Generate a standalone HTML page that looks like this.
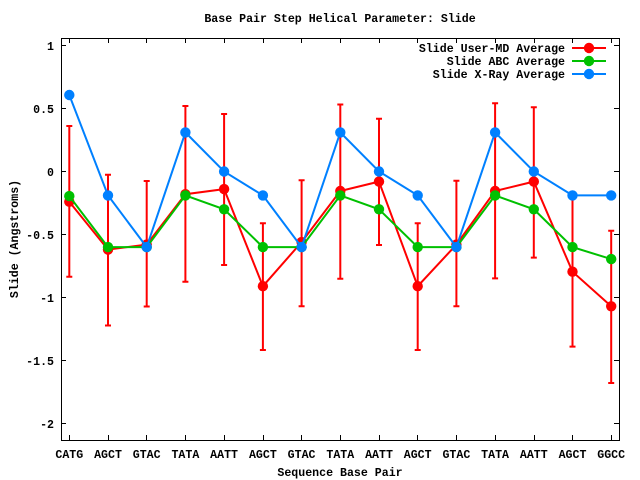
<!DOCTYPE html>
<html><head><meta charset="utf-8"><style>
html,body{margin:0;padding:0;background:#fff;}
svg{display:block;}
text{font-family:"Liberation Mono",monospace;font-weight:bold;font-size:11.6px;fill:#000;}
</style></head><body>
<svg width="640" height="480" viewBox="0 0 640 480" xmlns="http://www.w3.org/2000/svg">
<rect width="640" height="480" fill="#fff"/>
<text x="340" y="22" text-anchor="middle">Base Pair Step Helical Parameter: Slide</text>
<!-- frame -->
<rect x="61.5" y="38.5" width="558" height="402" fill="none" stroke="#000" stroke-width="1"/>
<!-- y ticks -->
<g stroke="#000" stroke-width="1">
<line x1="61" y1="45.5" x2="66" y2="45.5"/><line x1="614" y1="45.5" x2="619" y2="45.5"/>
<line x1="61" y1="108.5" x2="66" y2="108.5"/><line x1="614" y1="108.5" x2="619" y2="108.5"/>
<line x1="61" y1="171.5" x2="66" y2="171.5"/><line x1="614" y1="171.5" x2="619" y2="171.5"/>
<line x1="61" y1="234.5" x2="66" y2="234.5"/><line x1="614" y1="234.5" x2="619" y2="234.5"/>
<line x1="61" y1="297.5" x2="66" y2="297.5"/><line x1="614" y1="297.5" x2="619" y2="297.5"/>
<line x1="61" y1="360.5" x2="66" y2="360.5"/><line x1="614" y1="360.5" x2="619" y2="360.5"/>
<line x1="61" y1="423.5" x2="66" y2="423.5"/><line x1="614" y1="423.5" x2="619" y2="423.5"/>
</g>
<g stroke="#000" stroke-width="1">
<line x1="69.5" y1="440" x2="69.5" y2="435"/><line x1="69.5" y1="38" x2="69.5" y2="43"/>
<line x1="108.5" y1="440" x2="108.5" y2="435"/><line x1="108.5" y1="38" x2="108.5" y2="43"/>
<line x1="146.5" y1="440" x2="146.5" y2="435"/><line x1="146.5" y1="38" x2="146.5" y2="43"/>
<line x1="185.5" y1="440" x2="185.5" y2="435"/><line x1="185.5" y1="38" x2="185.5" y2="43"/>
<line x1="224.5" y1="440" x2="224.5" y2="435"/><line x1="224.5" y1="38" x2="224.5" y2="43"/>
<line x1="263.5" y1="440" x2="263.5" y2="435"/><line x1="263.5" y1="38" x2="263.5" y2="43"/>
<line x1="301.5" y1="440" x2="301.5" y2="435"/><line x1="301.5" y1="38" x2="301.5" y2="43"/>
<line x1="340.5" y1="440" x2="340.5" y2="435"/><line x1="340.5" y1="38" x2="340.5" y2="43"/>
<line x1="379.5" y1="440" x2="379.5" y2="435"/><line x1="379.5" y1="38" x2="379.5" y2="43"/>
<line x1="417.5" y1="440" x2="417.5" y2="435"/><line x1="417.5" y1="38" x2="417.5" y2="43"/>
<line x1="456.5" y1="440" x2="456.5" y2="435"/><line x1="456.5" y1="38" x2="456.5" y2="43"/>
<line x1="495.5" y1="440" x2="495.5" y2="435"/><line x1="495.5" y1="38" x2="495.5" y2="43"/>
<line x1="534.5" y1="440" x2="534.5" y2="435"/><line x1="534.5" y1="38" x2="534.5" y2="43"/>
<line x1="572.5" y1="440" x2="572.5" y2="435"/><line x1="572.5" y1="38" x2="572.5" y2="43"/>
<line x1="611.5" y1="440" x2="611.5" y2="435"/><line x1="611.5" y1="38" x2="611.5" y2="43"/>
</g>
<!-- y tick labels -->
<g text-anchor="end">
<text x="54" y="50">1</text>
<text x="54" y="113">0.5</text>
<text x="54" y="176">0</text>
<text x="54" y="239">-0.5</text>
<text x="54" y="302">-1</text>
<text x="54" y="365">-1.5</text>
<text x="54" y="428">-2</text>
</g>
<!-- x tick labels -->
<g text-anchor="middle">
<text x="69.3" y="458">CATG</text>
<text x="108" y="458">AGCT</text>
<text x="146.7" y="458">GTAC</text>
<text x="185.4" y="458">TATA</text>
<text x="224.1" y="458">AATT</text>
<text x="262.9" y="458">AGCT</text>
<text x="301.6" y="458">GTAC</text>
<text x="340.3" y="458">TATA</text>
<text x="379" y="458">AATT</text>
<text x="417.7" y="458">AGCT</text>
<text x="456.4" y="458">GTAC</text>
<text x="495.1" y="458">TATA</text>
<text x="533.8" y="458">AATT</text>
<text x="572.5" y="458">AGCT</text>
<text x="611.2" y="458">GGCC</text>
</g>
<text x="340" y="476" text-anchor="middle">Sequence Base Pair</text>
<text x="18" y="239" text-anchor="middle" transform="rotate(-90 18 239)">Slide (Angstroms)</text>

<!-- Red series -->
<g stroke="#ff0000" stroke-width="2" fill="none">
<polyline points="69.3,201.7 108,249.6 146.7,244.6 185.4,194.2 224.1,189.1 262.9,286.2 301.6,242.1 340.3,191 379,181.6 417.7,286.2 456.4,244.6 495.1,191 533.8,181.6 572.5,271.7 611.2,306.3"/>
<path d="M69.3,126V276.7 M66.3,126H72.3 M66.3,276.7H72.3
M108,174.7V325.5 M105,174.7H111 M105,325.5H111
M146.7,181V306.5 M143.7,181H149.7 M143.7,306.5H149.7
M185.4,106V281.8 M182.4,106H188.4 M182.4,281.8H188.4
M224.1,114V265 M221.1,114H227.1 M221.1,265H227.1
M262.9,223.3V350 M259.9,223.3H265.9 M259.9,350H265.9
M301.6,180.3V306.3 M298.6,180.3H304.6 M298.6,306.3H304.6
M340.3,104.5V278.8 M337.3,104.5H343.3 M337.3,278.8H343.3
M379,118.7V245 M376,118.7H382 M376,245H382
M417.7,223.3V350 M414.7,223.3H420.7 M414.7,350H420.7
M456.4,180.8V306.3 M453.4,180.8H459.4 M453.4,306.3H459.4
M495.1,103.2V278.4 M492.1,103.2H498.1 M492.1,278.4H498.1
M533.8,107.2V257.6 M530.8,107.2H536.8 M530.8,257.6H536.8
M572.5,196.7V346.6 M569.5,196.7H575.5 M569.5,346.6H575.5
M611.2,230.7V383 M608.2,230.7H614.2 M608.2,383H614.2"/>
</g>
<g fill="#ff0000">
<circle cx="69.3" cy="201.7" r="5.2"/><circle cx="108" cy="249.6" r="5.2"/><circle cx="146.7" cy="244.6" r="5.2"/><circle cx="185.4" cy="194.2" r="5.2"/><circle cx="224.1" cy="189.1" r="5.2"/><circle cx="262.9" cy="286.2" r="5.2"/><circle cx="301.6" cy="242.1" r="5.2"/><circle cx="340.3" cy="191" r="5.2"/><circle cx="379" cy="181.6" r="5.2"/><circle cx="417.7" cy="286.2" r="5.2"/><circle cx="456.4" cy="244.6" r="5.2"/><circle cx="495.1" cy="191" r="5.2"/><circle cx="533.8" cy="181.6" r="5.2"/><circle cx="572.5" cy="271.7" r="5.2"/><circle cx="611.2" cy="306.3" r="5.2"/>
</g>

<!-- Green series -->
<polyline fill="none" stroke="#00c000" stroke-width="2" points="69.3,196.1 108,247.1 146.7,247.1 185.4,195.4 224.1,209.3 262.9,247.1 301.6,247.1 340.3,195.4 379,209.3 417.7,247.1 456.4,247.1 495.1,195.4 533.8,209.3 572.5,247.1 611.2,259.1"/>
<g fill="#00c000">
<circle cx="69.3" cy="196.1" r="5.2"/><circle cx="108" cy="247.1" r="5.2"/><circle cx="146.7" cy="247.1" r="5.2"/><circle cx="185.4" cy="195.4" r="5.2"/><circle cx="224.1" cy="209.3" r="5.2"/><circle cx="262.9" cy="247.1" r="5.2"/><circle cx="301.6" cy="247.1" r="5.2"/><circle cx="340.3" cy="195.4" r="5.2"/><circle cx="379" cy="209.3" r="5.2"/><circle cx="417.7" cy="247.1" r="5.2"/><circle cx="456.4" cy="247.1" r="5.2"/><circle cx="495.1" cy="195.4" r="5.2"/><circle cx="533.8" cy="209.3" r="5.2"/><circle cx="572.5" cy="247.1" r="5.2"/><circle cx="611.2" cy="259.1" r="5.2"/>
</g>

<!-- Blue series -->
<polyline fill="none" stroke="#0080ff" stroke-width="2" points="69.3,95 108,195.4 146.7,247.1 185.4,132.4 224.1,171.5 262.9,195.4 301.6,247.1 340.3,132.4 379,171.5 417.7,195.4 456.4,247.1 495.1,132.4 533.8,171.5 572.5,195.4 611.2,195.4"/>
<g fill="#0080ff">
<circle cx="69.3" cy="95" r="5.2"/><circle cx="108" cy="195.4" r="5.2"/><circle cx="146.7" cy="247.1" r="5.2"/><circle cx="185.4" cy="132.4" r="5.2"/><circle cx="224.1" cy="171.5" r="5.2"/><circle cx="262.9" cy="195.4" r="5.2"/><circle cx="301.6" cy="247.1" r="5.2"/><circle cx="340.3" cy="132.4" r="5.2"/><circle cx="379" cy="171.5" r="5.2"/><circle cx="417.7" cy="195.4" r="5.2"/><circle cx="456.4" cy="247.1" r="5.2"/><circle cx="495.1" cy="132.4" r="5.2"/><circle cx="533.8" cy="171.5" r="5.2"/><circle cx="572.5" cy="195.4" r="5.2"/><circle cx="611.2" cy="195.4" r="5.2"/>
</g>

<!-- Legend -->
<g text-anchor="end">
<text x="565" y="52">Slide User-MD Average</text>
<text x="565" y="65">Slide ABC Average</text>
<text x="565" y="78">Slide X-Ray Average</text>
</g>
<line x1="572" y1="48" x2="606" y2="48" stroke="#ff0000" stroke-width="2"/>
<circle cx="589" cy="48" r="5.2" fill="#ff0000"/>
<line x1="572" y1="61" x2="606" y2="61" stroke="#00c000" stroke-width="2"/>
<circle cx="589" cy="61" r="5.2" fill="#00c000"/>
<line x1="572" y1="74" x2="606" y2="74" stroke="#0080ff" stroke-width="2"/>
<circle cx="589" cy="74" r="5.2" fill="#0080ff"/>
</svg>
</body></html>
